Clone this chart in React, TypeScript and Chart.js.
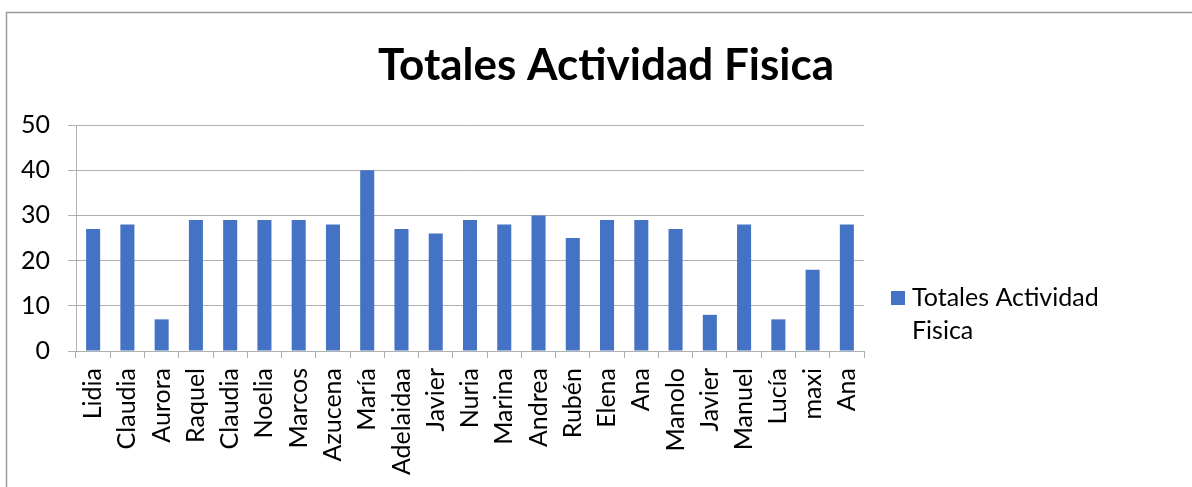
import React, { useEffect, useRef } from "react";
import { Chart, registerables } from "chart.js";

Chart.register(...registerables);

const categories = [
  "Lidia", "Claudia", "Aurora", "Raquel", "Claudia", "Noelia", "Marcos", "Azucena",
  "María", "Adelaidaa", "Javier", "Nuria", "Marina", "Andrea", "Rubén", "Elena",
  "Ana", "Manolo", "Javier", "Manuel", "Lucía", "maxi", "Ana",
];
const values = [27, 28, 7, 29, 29, 29, 29, 28, 40, 27, 26, 29, 28, 30, 25, 29, 29, 27, 8, 28, 7, 18, 28];
const seriesLabel = "Totales Actividad Fisica";
const titleText = "Totales Actividad Fisica";
const legendLines = ["Totales Actividad", "Fisica"];
const yTicks = [0, 10, 20, 30, 40, 50];

const FONT = "Lato, 'Open Sans', sans-serif";
const GRID = "#b0b0b0";
const BAR = "#4472C4";

export default function App() {
  const ref = useRef<HTMLCanvasElement>(null);

  useEffect(() => {
    document.body.style.margin = "0";
    const canvas = ref.current;
    if (!canvas) return;

    const deco = {
      id: "deco",
      beforeDraw(chart: any) {
        const c = chart.ctx;
        c.save();
        c.strokeStyle = "#9a9a9a";
        c.lineWidth = 1.5;
        c.beginPath();
        c.moveTo(6.5, chart.height + 2);
        c.lineTo(6.5, 12.5);
        c.lineTo(chart.width + 2, 12.5);
        c.stroke();
        c.restore();
      },
      afterDraw(chart: any) {
        const c = chart.ctx;
        c.save();
        c.fillStyle = "#000";
        c.font = `bold 44px ${FONT}`;
        c.textAlign = "center";
        c.textBaseline = "middle";
        c.fillText(titleText, 606, 66);
        // legend
        const ds = chart.data.datasets[0];
        c.fillStyle = ds.backgroundColor;
        c.fillRect(891, 291, 14, 14);
        c.fillStyle = "#000";
        c.font = `25px ${FONT}`;
        c.textAlign = "left";
        legendLines.forEach((line, i) => c.fillText(line, 912, 298 + i * 33));
        c.restore();
      },
    };

    const chart = new Chart(canvas, {
      type: "bar",
      data: {
        labels: categories,
        datasets: [
          {
            label: seriesLabel,
            data: values,
            backgroundColor: BAR,
            barPercentage: 0.41,
            categoryPercentage: 1,
          },
        ],
      },
      options: {
        responsive: false,
        animation: false,
        layout: { padding: { top: 125, right: 328, bottom: 0, left: 0 } },
        plugins: {
          legend: { display: false },
          title: { display: false },
          tooltip: { enabled: false },
        },
        scales: {
          x: {
            offset: true,
            grid: {
              display: true,
              drawOnChartArea: false,
              drawTicks: true,
              tickLength: 7,
              color: GRID,
              offset: true,
            },
            border: { display: true, color: GRID },
            ticks: {
              autoSkip: false,
              minRotation: 90,
              maxRotation: 90,
              color: "#000",
              font: { family: FONT, size: 25 },
              padding: 10,
            },
            afterFit: (s: any) => {
              s.height = 136;
            },
          },
          y: {
            min: 0,
            max: 50,
            afterBuildTicks: (s: any) => {
              s.ticks = yTicks.map((v) => ({ value: v }));
            },
            ticks: {
              color: "#000",
              font: { family: FONT, size: 25 },
              padding: 18,
            },
            grid: { color: GRID, tickLength: 8 },
            border: { display: true, color: GRID },
            afterFit: (s: any) => {
              s.width = 76;
            },
          },
        },
      },
      plugins: [deco],
    } as any);

    return () => chart.destroy();
  }, []);

  return <canvas ref={ref} width={1192} height={487} style={{ display: "block" }} />;
}
